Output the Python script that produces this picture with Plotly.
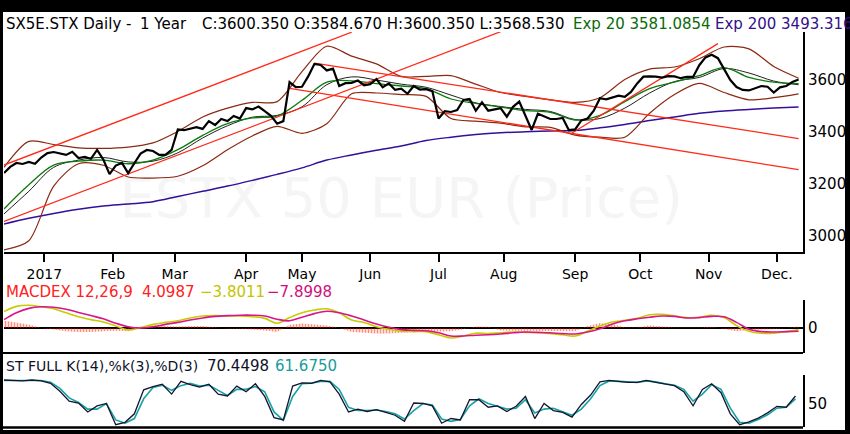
import pandas as pd
import plotly.graph_objects as go

# trading sessions (weekends + exchange holidays removed)
holidays = ["2016-12-26", "2017-04-14", "2017-04-17", "2017-05-01"]
sessions = [d.strftime("%Y-%m-%d") for d in pd.bdate_range("2016-12-13", "2017-12-12")
            if d.strftime("%Y-%m-%d") not in holidays]

month_starts = ["2017-01-02", "2017-02-01", "2017-03-01", "2017-04-03", "2017-05-02", "2017-06-01",
                "2017-07-03", "2017-08-01", "2017-09-01", "2017-10-02", "2017-11-01", "2017-12-01"]
month_labels = ["2017", "Feb", "Mar", "Apr", "May", "Jun", "Jul", "Aug", "Sep", "Oct", "Nov", "Dec."]

# close, every 2nd session
close = [3240, 3264, 3279, 3275, 3283, 3276, 3300, 3317, 3321, 3316,
         3310, 3322, 3298, 3302, 3295, 3329, 3292, 3236, 3269, 3279,
         3240, 3278, 3315, 3329, 3325, 3310, 3310, 3329, 3408, 3405,
         3412, 3417, 3410, 3440, 3425, 3448, 3440, 3460, 3450, 3490,
         3485, 3496, 3478, 3460, 3430, 3440, 3590, 3571, 3572, 3612,
         3660, 3656, 3635, 3642, 3575, 3586, 3587, 3596, 3578, 3582,
         3602, 3570, 3585, 3560, 3565, 3545, 3575, 3561, 3563, 3555,
         3450, 3478, 3475, 3482, 3521, 3525, 3480, 3512, 3480, 3485,
         3490, 3457, 3495, 3515, 3460, 3406, 3468, 3458, 3448, 3448,
         3452, 3405, 3408, 3443, 3450, 3480, 3528, 3524, 3531, 3538,
         3533, 3552, 3585, 3611, 3612, 3611, 3607, 3613, 3612, 3605,
         3610, 3610, 3655, 3685, 3695, 3682, 3640, 3598, 3571, 3560,
         3558, 3568, 3575, 3572, 3550, 3570, 3575, 3590, 3600]

# smooth overlays, every 8th session
exp200 = [3044, 3066, 3085, 3101, 3113, 3121, 3130, 3150, 3170, 3190, 3212, 3235, 3260, 3290, 3310, 3328, 3344,
          3365, 3378, 3388, 3395, 3399, 3402, 3404, 3414, 3427, 3442, 3456, 3470, 3479, 3485, 3490, 3494]
exp20 = [3102, 3195, 3271, 3286, 3290, 3276, 3290, 3330, 3385, 3430, 3452, 3460, 3520, 3590, 3595, 3584, 3575,
         3565, 3525, 3508, 3494, 3480, 3474, 3444, 3462, 3515, 3565, 3590, 3615, 3646, 3608, 3590, 3584]
sma20 = [3083, 3170, 3262, 3290, 3300, 3283, 3286, 3318, 3375, 3422, 3455, 3462, 3495, 3580, 3610, 3598, 3582,
         3570, 3540, 3510, 3496, 3485, 3477, 3446, 3450, 3490, 3548, 3592, 3608, 3642, 3625, 3594, 3580]
bb_upper = [3262, 3362, 3350, 3337, 3335, 3340, 3356, 3400, 3456, 3490, 3512, 3515, 3630, 3728, 3690, 3660, 3612,
            3612, 3615, 3582, 3550, 3535, 3522, 3512, 3530, 3600, 3640, 3648, 3680, 3725, 3718, 3650, 3605]
bb_lower = [2945, 2980, 3190, 3276, 3270, 3225, 3221, 3228, 3268, 3330, 3383, 3420, 3393, 3430, 3545, 3548, 3542,
            3535, 3450, 3440, 3432, 3418, 3416, 3386, 3378, 3378, 3470, 3542, 3585, 3550, 3522, 3530, 3545]

# trend lines: (start session, value, end session, value)
trend_lines = [(0, 3271, 112, 3782), (0, 3054, 160, 3784), (183, 3394, 230, 3738),
               (100, 3663, 256, 3373), (92, 3566, 256, 3253)]
levels = [3660, 3600, 3556, 3403]

# MACD, every 4th session
macd = [41, 54, 57, 53, 48, 38, 28, 21, 15, 5,
        -5, 1, 9, 14, 18, 25, 30, 31, 30, 30,
        28, 24, 12, 26, 38, 45, 48, 38, 20, 14,
        3, -3, -8, -9, -9, -17, -25, -20, -13, -14,
        -12, -10, -11, -12, -14, -17, -20, -8, 5, 15,
        19, 24, 33, 34, 30, 26, 27, 32, 26, 6,
        -8, -13, -13, -9, -4]
signal = [21, 38, 49, 53, 52, 47, 39, 31, 23, 12,
          3, 0, 3, 9, 14, 20, 25, 29, 31, 32,
          32, 30, 22, 18, 27, 36, 42, 38, 30, 20,
          10, 2, -4, -6, -7, -12, -20, -20, -18, -17,
          -15, -12, -10, -11, -12, -14, -15, -10, -2, 10,
          18, 23, 27, 30, 29, 25, 26, 29, 28, 14,
          -3, -9, -10, -9, -8]
hist = [18, 14, 8, 0, -4, -8, -10, -10, -8, -7,
        -8, 1, 6, 5, 4, 5, 5, 2, -1, -2,
        -4, -6, -10, 8, 11, 9, 6, 0, -10, -12,
        -14, -14, -12, -10, -10, -9, -8, -3, 4, 3,
        -6, -7, -7, -8, -8, -7, -8, 5, 12, 10,
        1, 1, 6, 4, 1, 1, 1, 3, -2, -8,
        -5, -4, -3, 0, 4]

# stochastic, every 3rd session
stoch_k = [100, 99, 98, 100, 98, 93, 76, 55, 51, 32,
           45, 50, 5, 10, 28, 79, 86, 91, 70, 97,
           90, 85, 91, 70, 66, 87, 75, 92, 65, 20,
           15, 87, 94, 93, 99, 96, 70, 32, 38, 33,
           37, 31, 25, 12, 51, 50, 45, 8, 18, 15,
           58, 58, 42, 45, 33, 44, 65, 18, 50, 35,
           31, 21, 48, 68, 96, 99, 97, 95, 95, 99,
           95, 91, 88, 75, 45, 80, 92, 73, 28, 5,
           11, 19, 30, 44, 42, 66]
stoch_d = [99, 99, 98, 99, 99, 95, 82, 62, 52, 38,
           38, 50, 15, 8, 18, 60, 84, 89, 78, 88,
           93, 87, 89, 78, 67, 80, 80, 86, 75, 32,
           14, 65, 92, 93, 97, 97, 80, 42, 35, 35,
           36, 33, 28, 17, 35, 50, 47, 17, 12, 16,
           45, 60, 50, 44, 38, 40, 58, 30, 38, 40,
           33, 25, 38, 60, 88, 98, 97, 96, 95, 98,
           96, 92, 89, 80, 55, 70, 90, 80, 40, 10,
           8, 16, 26, 40, 42, 60]


def px(x):
    return x / 850


def py(y):
    return 1 - y / 434


FONT = "DejaVu Sans"
fig = go.Figure()

# watermark
fig.add_trace(go.Scatter(x=[sessions[128]], y=[3125], mode="text", text=["ESTX 50 EUR (Price)"],
                         textfont=dict(family=FONT, size=56, color="#f5f5f5"), hoverinfo="skip"))

fig.add_trace(go.Scatter(x=sessions[::8], y=exp200, mode="lines", line=dict(color="#32109a", width=1.5, shape="spline")))
fig.add_trace(go.Scatter(x=sessions[::8], y=bb_upper, mode="lines", line=dict(color="#8a2a12", width=1.2, shape="spline", smoothing=0.8)))
fig.add_trace(go.Scatter(x=sessions[::8], y=bb_lower, mode="lines", line=dict(color="#8a2a12", width=1.2, shape="spline", smoothing=0.8)))
fig.add_trace(go.Scatter(x=sessions[::8], y=sma20, mode="lines", line=dict(color="#202020", width=1, shape="spline")))
fig.add_trace(go.Scatter(x=sessions[::8], y=exp20, mode="lines", line=dict(color="#0a7a0a", width=1.3, shape="spline")))

for s0, v0, s1, v1 in trend_lines:
    fig.add_trace(go.Scatter(x=[sessions[s0], sessions[s1]], y=[v0, v1], mode="lines",
                             line=dict(color="#ff2a1a", width=1.3)))

fig.add_trace(go.Scatter(x=sessions[::2], y=close, mode="lines", line=dict(color="black", width=2.2)))

for lv in levels:
    thick = lv == levels[-1]
    fig.add_hline(y=lv, line=dict(color="#1e3838" if thick else "#101010", width=2 if thick else 1.2), layer="below")

# MACD panel
fig.add_trace(go.Scatter(x=sessions[::4], y=hist, mode="lines", yaxis="y2", fill="tozeroy",
                         line=dict(width=0, color="rgba(0,0,0,0)"), fillcolor="rgba(0,0,0,0)",
                         fillpattern=dict(shape="|", fgcolor="#ff1a00", bgcolor="rgba(255,255,255,0)",
                                          size=3, solidity=0.55)))
fig.add_trace(go.Scatter(x=sessions[::4], y=macd, mode="lines", yaxis="y2", line=dict(color="#c6cc00", width=1.6, shape="spline")))
fig.add_trace(go.Scatter(x=sessions[::4], y=signal, mode="lines", yaxis="y2", line=dict(color="#d8168a", width=1.6, shape="spline")))

# stochastic panel
fig.add_trace(go.Scatter(x=sessions[::3], y=stoch_d, mode="lines", yaxis="y3", line=dict(color="#17a3a3", width=1.6)))
fig.add_trace(go.Scatter(x=sessions[::3], y=stoch_k, mode="lines", yaxis="y3", line=dict(color="#151530", width=1.3)))

# headings
headings = [
    ("SX5E.STX Daily -", 4, 24, "black", 15), ("1 Year", 138, 24, "black", 15),
    ("C:3600.350 O:3584.670 H:3600.350 L:3568.530", 200, 24, "black", 15),
    ("Exp 20 3581.0854", 571, 24, "#0a6a0a", 15), ("Exp 200 3493.316", 713, 24, "#32108a", 15),
    ("MACDEX 12,26,9", 4, 292, "#ff2020", 15), ("4.0987", 140, 292, "#ff2020", 15),
    ("−3.8011", 198, 292, "#c4c400", 15), ("−7.8998", 265, 292, "#d0107a", 15),
    ("ST FULL K(14),%k(3),%D(3)", 4, 366, "#101028", 14), ("70.4498", 205, 366, "#101028", 15),
    ("61.6750", 273, 366, "#169c9c", 15),
]
for txt, x, y, col, size in headings:
    fig.add_annotation(text=txt, x=px(x), y=py(y), xref="paper", yref="paper", xanchor="left",
                       yanchor="middle", showarrow=False, font=dict(family=FONT, size=size, color=col))

shapes = [
    dict(type="rect", xref="paper", yref="paper", x0=px(3), x1=px(845), y0=py(430), y1=py(12),
         fillcolor="white", line=dict(width=0), layer="below"),
    dict(type="line", xref="paper", yref="paper", x0=0, x1=px(803), y0=py(353), y1=py(353),
         line=dict(color="black", width=2)),
    dict(type="line", xref="paper", yref="paper", x0=0, x1=px(803), y0=py(427.5), y1=py(427.5),
         line=dict(color="black", width=2.5)),
]
for s in shapes:
    fig.add_shape(**s)

right_axis = dict(side="right", anchor="x", ticks="", showline=True, linecolor="black", linewidth=2,
                  showgrid=False, tickfont=dict(family=FONT, size=15, color="black"))
fig.update_layout(
    width=850, height=434, margin=dict(l=0, r=0, t=0, b=0),
    paper_bgcolor="black", plot_bgcolor="white", showlegend=False,
    font=dict(family=FONT, color="black"),
    xaxis=dict(type="date", domain=[px(4), px(803)], range=[sessions[0], "2017-12-13 10:00"],
               rangebreaks=[dict(bounds=["sat", "mon"]), dict(values=holidays)],
               tickvals=month_starts, ticktext=month_labels, ticks="outside", ticklen=8, tickwidth=2,
               tickcolor="black", showline=True, linecolor="black", linewidth=2, showgrid=False,
               zeroline=False, tickfont=dict(family=FONT, size=14, color="black"), anchor="y"),
    yaxis=dict(domain=[py(252), py(32)], range=[2936.5, 3782.7], tickvals=[3000, 3200, 3400, 3600],
               zeroline=False, **right_axis),
    yaxis2=dict(domain=[py(353), py(300)], range=[-62.5, 70], tickvals=[0], zeroline=True,
                zerolinecolor="black", zerolinewidth=2, **right_axis),
    yaxis3=dict(domain=[py(427), py(375)], range=[0, 110.6], tickvals=[50], zeroline=False, **right_axis),
)

# page body margin would shift the figure; clear it
fig.write_html("out.html", config={"displayModeBar": False},
               post_script="document.body.style.margin='0';document.body.style.background='black';")
